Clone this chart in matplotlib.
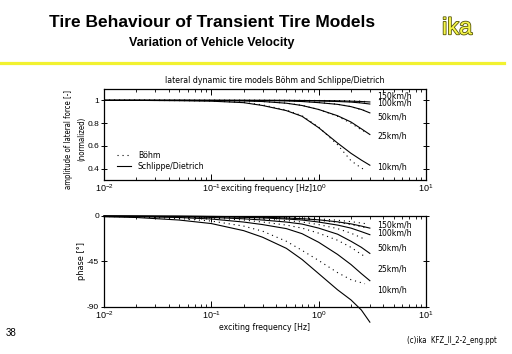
import matplotlib
matplotlib.use("Agg")
import matplotlib.pyplot as plt
import matplotlib.patheffects as pe
from matplotlib import font_manager
from matplotlib.font_manager import FontProperties
from matplotlib.ticker import LogLocator, FixedLocator

plt.rcParams['font.family'] = ['Liberation Sans', 'DejaVu Sans']

# look for a narrow font for the matlab-like text, else use a smaller regular one
narrow_file = None
for f in font_manager.fontManager.ttflist:
    low = f.fname.lower()
    if ("narrow" in low or "condensed" in low) and "bold" not in low and "oblique" not in low \
            and "italic" not in low:
        narrow_file = f.fname
        break


def small_font(size):
    if narrow_file:
        return FontProperties(fname=narrow_file, size=size + 0.6)
    return FontProperties(family="Liberation Sans", size=size)


# ---- data ----
speeds = ["150km/h", "100km/h", "50km/h", "25km/h", "10km/h"]

freq_sd = [0.01, 0.02, 0.05, 0.1, 0.2, 0.3, 0.5, 0.7, 1.0, 1.5, 2.0, 2.5, 3.0]
freq_bo = [0.01, 0.02, 0.05, 0.1, 0.2, 0.3, 0.5, 0.7, 1.0, 1.5, 2.0, 2.5, 2.7]

# amplitude, Schlippe/Dietrich (solid)
amp_sd_150 = [1.0, 1.0, 1.0, 1.0, 1.0, 1.0, 1.0, 0.999, 0.998, 0.996, 0.993, 0.99, 0.986]
amp_sd_100 = [1.0, 1.0, 1.0, 1.0, 1.0, 1.0, 0.999, 0.998, 0.995, 0.99, 0.985, 0.977, 0.968]
amp_sd_50 = [1.0, 1.0, 1.0, 1.0, 0.999, 0.998, 0.995, 0.99, 0.98, 0.965, 0.945, 0.92, 0.89]
amp_sd_25 = [1.0, 1.0, 1.0, 0.998, 0.995, 0.99, 0.975, 0.955, 0.92, 0.865, 0.81, 0.75, 0.70]
amp_sd_10 = [1.0, 1.0, 0.997, 0.993, 0.98, 0.955, 0.91, 0.86, 0.76, 0.625, 0.535, 0.475, 0.43]

# amplitude, Boehm (dotted)
amp_bo_150 = [1.0, 1.0, 1.0, 1.0, 1.0, 1.0, 1.0, 1.0, 0.999, 0.998, 0.996, 0.993, 0.99]
amp_bo_100 = [1.0, 1.0, 1.0, 1.0, 1.0, 1.0, 1.0, 0.999, 0.997, 0.993, 0.988, 0.98, 0.976]
amp_bo_50 = [1.0, 1.0, 1.0, 1.0, 1.0, 0.999, 0.996, 0.992, 0.982, 0.966, 0.945, 0.918, 0.91]
amp_bo_25 = [1.0, 1.0, 1.0, 0.998, 0.995, 0.99, 0.976, 0.956, 0.92, 0.86, 0.80, 0.74, 0.725]
amp_bo_10 = [1.0, 1.0, 0.998, 0.995, 0.982, 0.96, 0.915, 0.865, 0.765, 0.61, 0.47, 0.405, 0.39]

# phase [deg], Schlippe/Dietrich (solid)
ph_sd_150 = [0, -0.1, -0.2, -0.4, -0.8, -1.2, -2, -2.7, -3.8, -5.8, -7.8, -10, -12]
ph_sd_100 = [-0.1, -0.1, -0.3, -0.6, -1.3, -1.9, -3, -4, -6, -9, -12, -15.5, -18.5]
ph_sd_50 = [-0.1, -0.3, -0.7, -1.4, -2.8, -4, -6, -8, -12, -18, -25, -31, -37]
ph_sd_25 = [-0.3, -0.6, -1.5, -3, -6, -8.5, -12.5, -17.5, -26, -38, -48, -57, -64]
ph_sd_10 = [-0.7, -1.5, -4, -7.5, -14.5, -21, -32, -43, -57, -73, -83, -93, -105]

# phase [deg], Boehm (dotted)
ph_bo_150 = [0, 0, -0.1, -0.3, -0.7, -1, -1.5, -2, -2.8, -4.2, -5.6, -7, -7.5]
ph_bo_100 = [0, -0.1, -0.2, -0.5, -1, -1.5, -2.3, -3, -4.3, -6.3, -8.5, -10.5, -11.5]
ph_bo_50 = [-0.1, -0.2, -0.5, -1, -2, -3, -4.5, -6, -8.5, -12.5, -17, -21.5, -23]
ph_bo_25 = [-0.2, -0.4, -1, -2, -4, -6, -9, -12, -17, -24, -31, -38, -40]
ph_bo_10 = [-0.5, -1.0, -2.5, -5, -10, -15, -25, -34, -44, -56, -63, -66, -67]

amp_sd = [amp_sd_150, amp_sd_100, amp_sd_50, amp_sd_25, amp_sd_10]
amp_bo = [amp_bo_150, amp_bo_100, amp_bo_50, amp_bo_25, amp_bo_10]
ph_sd = [ph_sd_150, ph_sd_100, ph_sd_50, ph_sd_25, ph_sd_10]
ph_bo = [ph_bo_150, ph_bo_100, ph_bo_50, ph_bo_25, ph_bo_10]

amp_ticks = [0.4, 0.6, 0.8, 1]
amp_ticklabels = ["0.4", "0.6", "0.8", "1"]
ph_ticks = [-90, -45, 0]
ph_ticklabels = ["-90", "-45", "0"]

# label heights next to the curve ends
amp_label_y = [1.042, 0.974, 0.855, 0.685, 0.41]
ph_label_y = [-8.5, -17.0, -31.5, -52, -73]

DOTS = (0, (1, 3.5))
SMALL = 6
LBL = small_font(5.6)

fig = plt.figure(figsize=(5.12, 3.54), dpi=100)
fig.patch.set_facecolor("white")

# header
fig.text(0.415, 0.937, "Tire Behaviour of Transient Tire Models", ha="center", va="center",
         fontsize=12.5, fontweight="bold")
fig.text(0.413, 0.878, "Variation of Vehicle Velocity", ha="center", va="center",
         fontsize=9, fontweight="bold")
fig.text(0.893, 0.92, "ika", ha="center", va="center", fontsize=17, color="#f6f64a",
         path_effects=[pe.withStroke(linewidth=1.2, foreground="#55550a")])
fig.add_artist(plt.Line2D([0.0, 0.985], [0.823, 0.823], color="#f2f230", lw=2.3,
                          transform=fig.transFigure))
fig.text(0.012, 0.06, "38", fontsize=7, ha="left", va="center")
fig.text(0.795, 0.037, "(c)ika  KFZ_II_2-2_eng.ppt", fontproperties=small_font(5),
         ha="left", va="center")


def style_axes(ax):
    ax.set_xscale("log")
    ax.set_xlim(0.01, 10)
    ax.xaxis.set_major_locator(LogLocator(base=10, numticks=10))
    ax.xaxis.set_minor_locator(LogLocator(base=10, subs=range(2, 10), numticks=10))
    ax.tick_params(axis="x", which="both", direction="in", top=True, labelsize=6.5, pad=2)
    ax.tick_params(axis="x", which="major", length=4, width=0.7)
    ax.tick_params(axis="x", which="minor", length=2.2, width=0.6)
    ax.tick_params(axis="y", direction="inout", right=True, length=5, width=0.7,
                   labelsize=SMALL, pad=1)
    for s in ax.spines.values():
        s.set_linewidth(0.9)


# amplitude plot
ax1 = fig.add_axes([0.2031, 0.4915, 0.6289, 0.2571])
for vals in amp_sd:
    ax1.plot(freq_sd, vals, color="black", lw=0.8)
for vals in amp_bo:
    ax1.plot(freq_bo, vals, color="black", lw=0.8, linestyle=DOTS)
style_axes(ax1)
ax1.set_ylim(0.3, 1.1)
ax1.yaxis.set_major_locator(FixedLocator(amp_ticks))
ax1.set_yticklabels(amp_ticklabels)
ax1.set_title("lateral dynamic tire models Böhm and Schlippe/Dietrich", fontproperties=LBL,
              pad=4, x=0.53)
ax1.set_ylabel("amplitude of lateral force [-]\n(normalized)", fontproperties=small_font(5.0),
               linespacing=1.6)
ax1.yaxis.set_label_coords(-0.055, 0.45)
ax1.set_xlabel("exciting frequency [Hz]", fontproperties=LBL)
ax1.xaxis.set_label_coords(0.505, -0.04)
for name, y in zip(speeds, amp_label_y):
    ax1.text(3.5, y, name, fontproperties=LBL, va="center", ha="left")
h_bo, = ax1.plot([], [], color="black", lw=0.8, linestyle=DOTS)
h_sd, = ax1.plot([], [], color="black", lw=0.8)
ax1.legend([h_bo, h_sd], ["Böhm", "Schlippe/Dietrich"], loc="lower left",
           bbox_to_anchor=(0.03, 0.06), frameon=False, prop=LBL, handlelength=1.6,
           handletextpad=0.8, labelspacing=0.25, borderaxespad=0)

# phase plot
ax2 = fig.add_axes([0.2031, 0.1328, 0.6289, 0.2571])
for vals in ph_sd:
    ax2.plot(freq_sd, vals, color="black", lw=0.8, clip_on=False)
for vals in ph_bo:
    ax2.plot(freq_bo, vals, color="black", lw=0.8, linestyle=DOTS)
style_axes(ax2)
ax2.set_ylim(-90, 0)
ax2.yaxis.set_major_locator(FixedLocator(ph_ticks))
ax2.set_yticklabels(ph_ticklabels)
ax2.set_ylabel("phase [°]", fontproperties=small_font(6))
ax2.yaxis.set_label_coords(-0.055, 0.5)
ax2.set_xlabel("exciting frequency [Hz]", fontproperties=LBL, labelpad=1)
for name, y in zip(speeds, ph_label_y):
    ax2.text(3.5, y, name, fontproperties=LBL, va="center", ha="left")

fig.savefig("out.png", dpi=100, facecolor="white")
